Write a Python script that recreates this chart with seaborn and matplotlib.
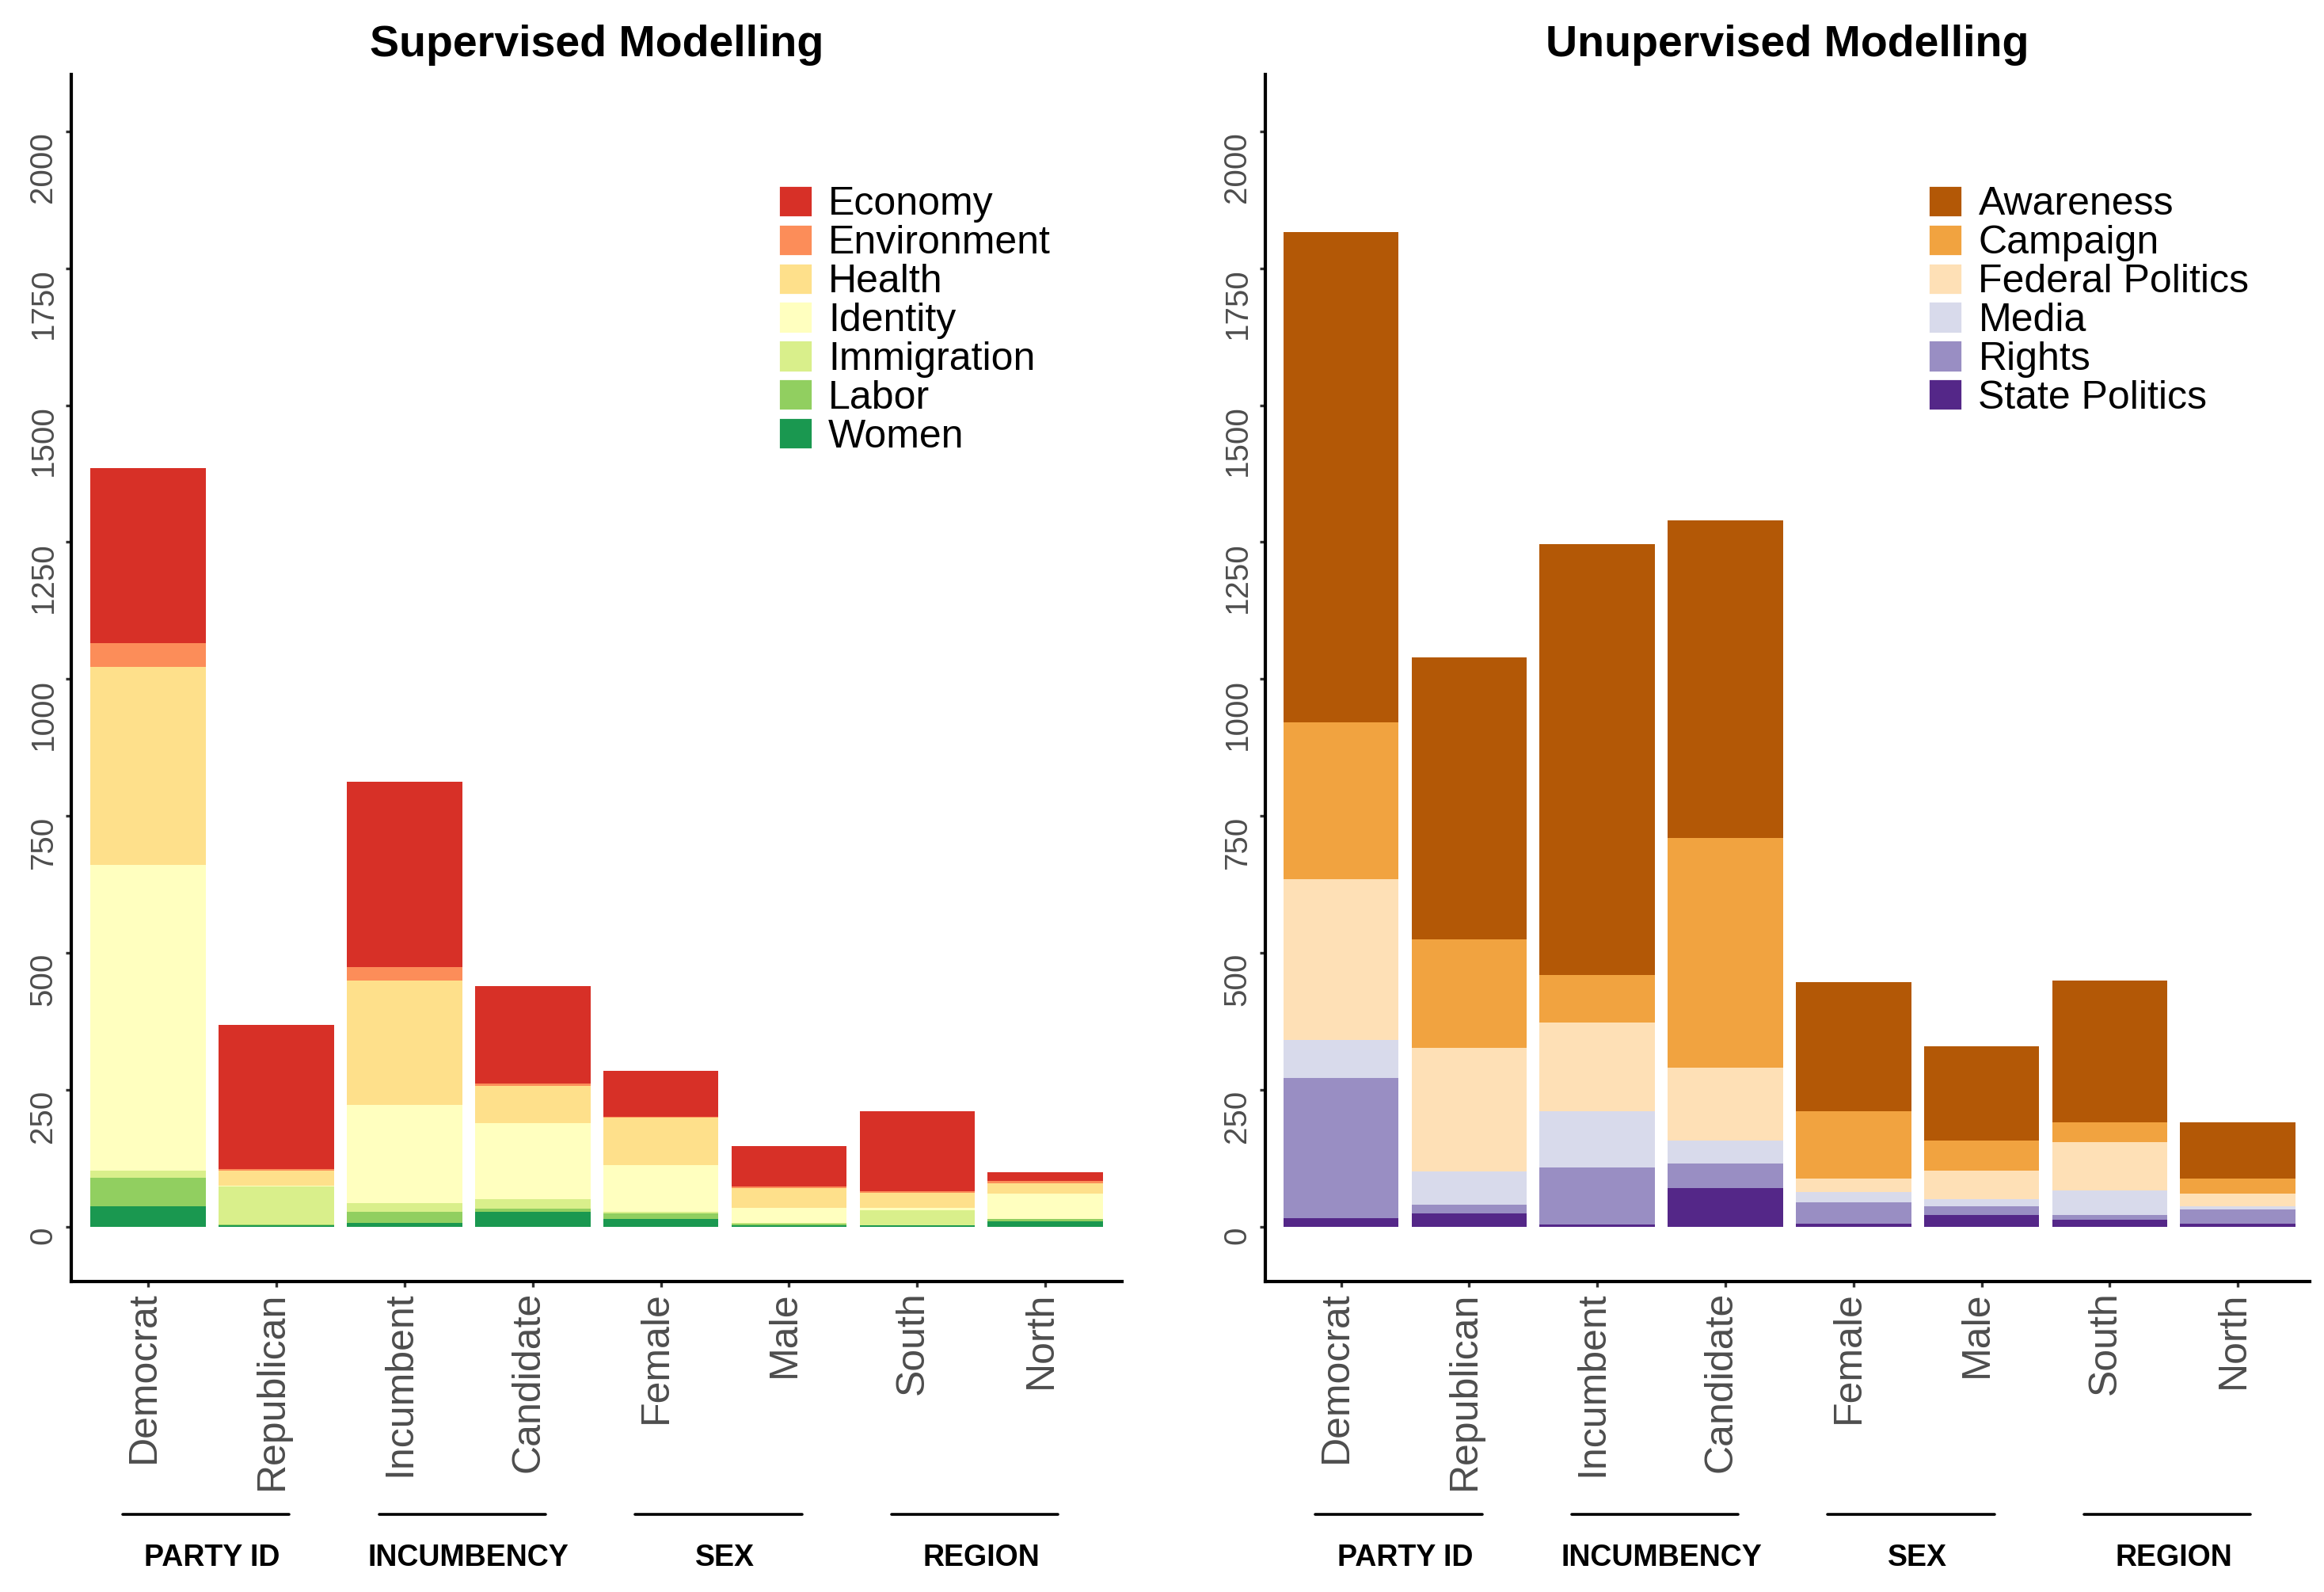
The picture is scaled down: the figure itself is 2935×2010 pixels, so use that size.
import matplotlib.pyplot as plt
import matplotlib.transforms as mtransforms
from matplotlib.patches import Patch
import seaborn as sns
import pandas as pd
import numpy as np

sns.set_style("ticks")
plt.rcParams['font.family'] = ['Liberation Sans', 'DejaVu Sans']
plt.rcParams['text.color'] = 'black'

# categories on the x axis
groups = ['Democrat', 'Republican', 'Incumbent', 'Candidate',
          'Female', 'Male', 'South', 'North']
group_labels = ['PARTY ID', 'INCUMBENCY', 'SEX', 'REGION']

# supervised topics (stack order: bottom -> top)
sup_topics = ['Women', 'Labor', 'Immigration', 'Identity', 'Health', 'Environment', 'Economy']
women = [38, 3, 7, 27, 15, 3, 3, 10]
labor = [51, 1, 20, 6, 10, 2, 0, 4]
immigration = [13, 69, 16, 18, 2, 2, 27, 0]
identity = [558, 2, 179, 138, 85, 27, 4, 46]
health = [362, 28, 228, 68, 87, 36, 28, 20]
environment = [43, 2, 24, 4, 2, 4, 3, 3]
economy = [320, 263, 339, 178, 84, 73, 146, 16]
sup_colors = ['#1A9850', '#91CF60', '#D9EF8B', '#FFFFBF', '#FEE08B', '#FC8D59', '#D73027']

# unsupervised topics (stack order: bottom -> top)
uns_topics = ['State Politics', 'Rights', 'Media', 'Federal Politics', 'Campaign', 'Awareness']
state_politics = [16, 25, 4, 71, 5, 21, 13, 5]
rights = [256, 15, 104, 45, 39, 17, 9, 26]
media = [69, 61, 103, 42, 19, 13, 45, 7]
federal_politics = [294, 225, 162, 132, 25, 51, 88, 22]
campaign = [286, 199, 87, 420, 123, 55, 36, 28]
awareness = [895, 514, 786, 580, 236, 172, 258, 103]
uns_colors = ['#542788', '#998EC3', '#D8DAEB', '#FEE0B6', '#F1A340', '#B35806']


def stacked_bars(ax, layers, colors):
    cum = np.cumsum(np.array(layers), axis=0)
    # draw tallest cumulative first, then overlay lower ones
    for k in range(len(layers) - 1, -1, -1):
        df = pd.DataFrame({'group': groups, 'value': cum[k]})
        sns.barplot(data=df, x='group', y='value', order=groups, color=colors[k],
                    saturation=1, width=0.9, linewidth=0, errorbar=None, ax=ax)


def style_axis(ax, title, xlim):
    ax.set_xlim(*xlim)
    ax.set_ylim(-100, 2103)
    ax.set_yticks(np.arange(0, 2001, 250))
    ax.set_xlabel('')
    ax.set_ylabel('')
    ax.tick_params(axis='x', labelrotation=90, labelsize=18, labelcolor='#4D4D4D',
                   color='#333333', length=2.5, width=1.2, pad=2)
    ax.tick_params(axis='y', labelrotation=90, labelsize=14.5, labelcolor='#4D4D4D',
                   color='#333333', length=2.5, width=1.2, pad=3.5)
    for lab in ax.get_yticklabels():
        lab.set_va('top')
    shift = mtransforms.ScaledTranslation(-2 / 72, 0, ax.figure.dpi_scale_trans)
    for lab in ax.get_xticklabels():
        lab.set_transform(lab.get_transform() + shift)
    sns.despine(ax=ax)
    for s in ['left', 'bottom']:
        ax.spines[s].set_linewidth(1.5)
        ax.spines[s].set_color('black')
    ax.set_title(title, fontsize=20, fontweight='bold', pad=8.5, color='black')

    trans = mtransforms.blended_transform_factory(ax.transData, ax.transAxes)
    for i, lab in enumerate(group_labels):
        x0 = 2 * i
        ax.plot([x0 - 0.2, x0 + 1.1], [-0.193, -0.193], color='black', lw=1.3,
                transform=trans, clip_on=False)
        ax.text(x0 + 0.5, -0.229, lab, transform=trans, ha='center', va='center',
                fontsize=13.5, fontweight='bold', color='black')


fig = plt.figure(figsize=(14.675, 10.05), dpi=200)
ax1 = fig.add_axes([0.0307, 0.195, 0.4522, 0.758])
ax2 = fig.add_axes([0.5445, 0.195, 0.4493, 0.758])

legend_kw = dict(loc='upper left', frameon=False, fontsize=18, handlelength=0.86,
                 handleheight=0.86, handletextpad=0.4, labelspacing=0.03, borderpad=0,
                 labelcolor='black')

stacked_bars(ax1, [women, labor, immigration, identity, health, environment, economy], sup_colors)
style_axis(ax1, 'Supervised Modelling', (-0.6, 7.6))
handles = [Patch(facecolor=c, label=t) for t, c in zip(sup_topics[::-1], sup_colors[::-1])]
ax1.legend(handles=handles, bbox_to_anchor=(0.654, 0.925), **legend_kw)

stacked_bars(ax2, [state_politics, rights, media, federal_politics, campaign, awareness], uns_colors)
style_axis(ax2, 'Unupervised Modelling', (-0.59, 7.56))
handles = [Patch(facecolor=c, label=t) for t, c in zip(uns_topics[::-1], uns_colors[::-1])]
ax2.legend(handles=handles, bbox_to_anchor=(0.616, 0.925), **legend_kw)

fig.savefig('out.png', dpi=200)
